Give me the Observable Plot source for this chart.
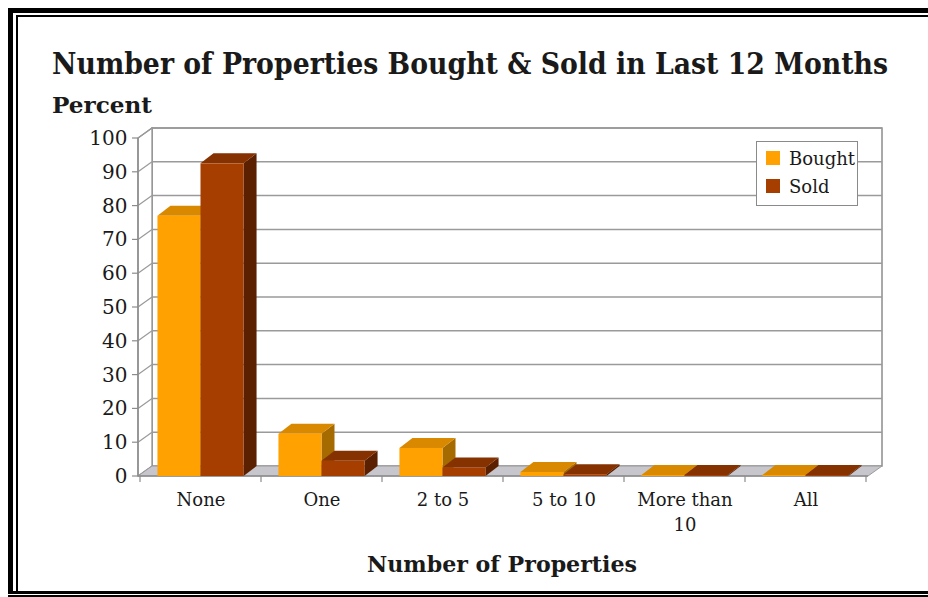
<!DOCTYPE html>
<html><head><meta charset="utf-8">
<script src="https://cdn.jsdelivr.net/npm/d3@7"></script>
<script src="https://cdn.jsdelivr.net/npm/@observablehq/plot@0.6"></script>
<style>
body{margin:0;background:#fff;}
#wrap{position:relative;width:928px;height:597px;overflow:hidden;background:#fff;font-family:"DejaVu Serif",serif;color:#1a1a1a;}
#chart{position:absolute;left:0;top:0;}
.b{position:absolute;background:#000;pointer-events:none;}
.txt{position:absolute;white-space:nowrap;font-weight:bold;display:inline-block;transform-origin:0 0;}
#title{left:52px;top:50px;font-size:29px;line-height:29px;}
#ylab{left:52px;top:94px;font-size:22px;line-height:22px;}
#xlab{left:367px;top:553px;font-size:22px;line-height:22px;}
#legend{position:absolute;left:756px;top:141px;width:102px;height:65px;border:1.5px solid #8a8a8a;background:#fff;padding:2px 0 0 9px;box-sizing:border-box;}
.lg-swatch{height:28px !important;padding:0 !important;margin:0 !important;}
</style></head>
<body>
<div id="wrap">
  <div id="chart"></div>
  <div class="txt" id="title">Number of Properties Bought &amp; Sold in Last 12 Months</div>
  <div class="txt" id="ylab">Percent</div>
  <div class="txt" id="xlab">Number of Properties</div>
  <div id="legend"></div>
  <div class="b" style="left:8px;top:8px;width:930px;height:5px"></div>
  <div class="b" style="left:8px;top:8px;width:5px;height:586px"></div>
  <div class="b" style="left:16px;top:15px;width:930px;height:1.5px"></div>
  <div class="b" style="left:16px;top:15px;width:1.5px;height:577px"></div>
  <div class="b" style="left:8px;top:591px;width:930px;height:2.5px"></div>
  <div class="b" style="left:8px;top:595px;width:930px;height:1.5px"></div>
</div>
<script>
// ---- data ----
const categories = ["None", "One", "2 to 5", "5 to 10", "More than 10", "All"];
const labelLine1 = ["None", "One", "2 to 5", "5 to 10", "More than", "All"];
const labelLine2 = ["", "", "", "", "10", ""];
const series = ["Bought", "Sold"];
const bought = [77, 12.5, 8.3, 1.2, 0.3, 0.3];
const sold = [92.5, 4.5, 2.5, 0.5, 0.3, 0.3];
const yTicks = [0, 10, 20, 30, 40, 50, 60, 70, 80, 90, 100];

// ---- style ----
const faceColors = {
  Bought: {front: "#ffa100", top: "#d98900", side: "#a56b00"},
  Sold:   {front: "#a63e00", top: "#853100", side: "#5a2000"}
};
const WDX = 14, WDY = 10;   // wall depth (px)
const BDX = 13, BDY = 10;   // bar depth (px)
const gridColor = "#9a9a9a";

const rows = categories.flatMap((c, i) => [
  {category: c, series: "Bought", value: bought[i]},
  {category: c, series: "Sold", value: sold[i]}
]);

function walls(index, scales, values, dim) {
  const {x, y} = scales;
  const L = dim.marginLeft, R = dim.width - dim.marginRight;
  const yb = y(0), yt = y(100);
  const g = d3.create("svg:g");
  g.append("rect").attr("x", L + WDX).attr("y", yt - WDY).attr("width", R - L).attr("height", yb - yt)
    .attr("fill", "#fff").attr("stroke", "#8c8c8c").attr("stroke-width", 1.5);
  g.append("path").attr("d", `M${L},${yb}L${L},${yt}L${L + WDX},${yt - WDY}L${L + WDX},${yb - WDY}Z`)
    .attr("fill", "#fff").attr("stroke", "#8c8c8c").attr("stroke-width", 1.2);
  for (const t of yTicks) {
    if (t === 0) continue;
    g.append("line").attr("x1", L + WDX).attr("x2", R + WDX).attr("y1", y(t) - WDY).attr("y2", y(t) - WDY)
      .attr("stroke", gridColor).attr("stroke-width", 1.5);
    g.append("line").attr("x1", L).attr("x2", L + WDX).attr("y1", y(t)).attr("y2", y(t) - WDY)
      .attr("stroke", gridColor).attr("stroke-width", 1.2);
  }
  g.append("path").attr("d", `M${L},${yb}L${R},${yb}L${R + WDX},${yb - WDY}L${L + WDX},${yb - WDY}Z`)
    .attr("fill", "#c6c6cc").attr("stroke", "#9a9a9a").attr("stroke-width", 1);
  g.append("line").attr("x1", L).attr("x2", L).attr("y1", yt).attr("y2", yb).attr("stroke", "#8c8c8c").attr("stroke-width", 1.5);
  for (const t of yTicks) {
    g.append("line").attr("x1", L - 6).attr("x2", L).attr("y1", y(t)).attr("y2", y(t)).attr("stroke", "#8c8c8c").attr("stroke-width", 1.2);
  }
  g.append("line").attr("x1", L).attr("x2", R).attr("y1", yb).attr("y2", yb).attr("stroke", "#8c8c8c").attr("stroke-width", 1.5);
  const edges = categories.map(c => x(c)).concat([x(categories[categories.length - 1]) + x.bandwidth()]);
  for (const e of edges) {
    g.append("line").attr("x1", e).attr("x2", e).attr("y1", yb).attr("y2", yb + 6).attr("stroke", "#8c8c8c").attr("stroke-width", 1.2);
  }
  return g.node();
}

function bars3d(index, scales, values, dim) {
  const {x, y} = scales;
  const g = d3.create("svg:g");
  const y0 = y(0);
  for (const c of categories) {
    const inner = d3.scaleBand(series, [x(c), x(c) + x.bandwidth()]).paddingInner(0).paddingOuter(0.405);
    for (const s of series) {
      const d = rows.find(r => r.category === c && r.series === s);
      const x0 = inner(s), w = inner.bandwidth(), x1 = x0 + w, yv = y(d.value);
      const col = faceColors[s];
      g.append("path").attr("d", `M${x1},${yv}L${x1},${y0}L${x1 + BDX},${y0 - BDY}L${x1 + BDX},${yv - BDY}Z`).attr("fill", col.side);
      g.append("path").attr("d", `M${x0},${yv}L${x1},${yv}L${x1 + BDX},${yv - BDY}L${x0 + BDX},${yv - BDY}Z`).attr("fill", col.top);
      g.append("rect").attr("x", x0).attr("y", yv).attr("width", w).attr("height", Math.max(0, y0 - yv)).attr("fill", col.front);
    }
  }
  return g.node();
}

const chart = Plot.plot({
  width: 928,
  height: 597,
  marginLeft: 138,
  marginRight: 60,
  marginTop: 138,
  marginBottom: 121,
  style: {fontFamily: "'DejaVu Serif', serif", fontSize: "20px", color: "#1a1a1a", background: "transparent", overflow: "visible"},
  x: {type: "band", domain: categories, padding: 0, axis: null},
  y: {domain: [0, 100], ticks: 10, tickSize: 0, tickPadding: 11, label: null},
  marks: [
    walls,
    bars3d,
    Plot.text(categories, {x: d => d, y: () => 0, dy: 24, text: (d, i) => labelLine1[i], fontSize: 18, fill: "#1a1a1a"}),
    Plot.text(categories, {x: d => d, y: () => 0, dy: 49, text: (d, i) => labelLine2[i], fontSize: 18, fill: "#1a1a1a"})
  ]
});
document.getElementById("chart").appendChild(chart);

const leg = Plot.legend({
  legend: "swatches",
  color: {domain: series, range: series.map(s => faceColors[s].front)},
  columns: 1,
  swatchSize: 14,
  className: "lg",
  style: {fontFamily: "'DejaVu Serif', serif", fontSize: "18px", color: "#1a1a1a", margin: "0"}
});
document.getElementById("legend").appendChild(leg);

function fit(id, w) {
  const el = document.getElementById(id);
  const r = el.getBoundingClientRect().width;
  el.style.transform = `scaleX(${w / r})`;
}
fit("title", 836);
fit("ylab", 100);
fit("xlab", 270);
</script>
</body></html>
